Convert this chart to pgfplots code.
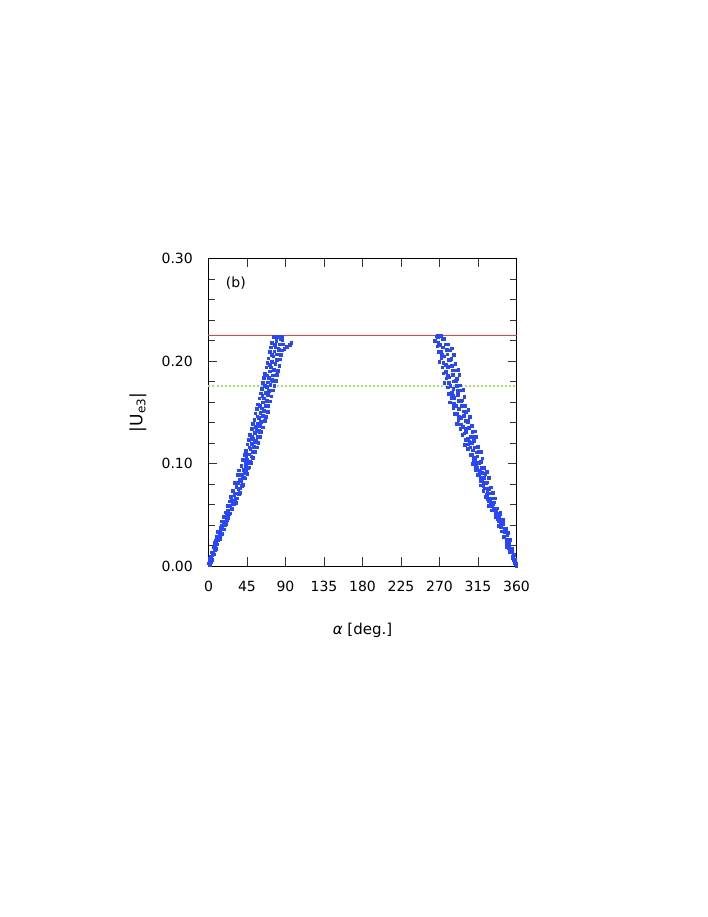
\documentclass[border=0pt]{standalone}
\usepackage{pgfplots}
\pgfplotsset{compat=1.18}
\usepackage{fontspec}
\setmainfont{DejaVu Sans}
\definecolor{ptblue}{RGB}{40,70,255}
\definecolor{ptred}{RGB}{240,60,60}
\definecolor{ptgreen}{RGB}{160,230,90}
\begin{document}
\begin{tikzpicture}
\path[use as bounding box, fill=white] (-208.5pt,-350.5pt) rectangle (499.5pt,566.5pt);
\begin{axis}[
  at={(0pt,0pt)}, anchor=south west,
  scale only axis, width=308pt, height=308pt,
  xmin=0, xmax=360, ymin=0, ymax=0.3,
  xtick={0,45,90,135,180,225,270,315,360},
  ytick={0,0.1,0.2,0.3},
  minor y tick num=4,
  tick align=inside,
  major tick length=9pt, minor tick length=6.5pt,
  axis line style={line width=1.3pt, black},
  every tick/.style={line width=1pt, black!80},
  /pgf/number format/assume math mode=true,
  yticklabel={\pgfmathprintnumber[fixed,fixed zerofill,precision=2]{\tick}},
  xticklabel style={font=\fontsize{14}{16}\selectfont, anchor=north, inner sep=0pt, yshift=-14.5pt},
  yticklabel style={font=\fontsize{14}{16}\selectfont, anchor=east, inner sep=0pt, xshift=-15.5pt},
  scaled y ticks=false,
  xlabel={{\itshape α} [deg.]},
  xlabel style={at={(axis description cs:0.5,-0.206)}, anchor=center, font=\fontsize{15}{18}\selectfont},
  ylabel={|U\textsubscript{e3}|},
  ylabel style={at={(axis description cs:-0.229,0.5)}, anchor=center, rotate=0, font=\fontsize{17}{20}\selectfont},
  clip=false,
]
\addplot[ptred, line width=1.1pt, mark=none, solid] table {
x y
0 0.225
360 0.225
};
\addplot[ptgreen, line width=1.4pt, mark=none, dash pattern=on 2pt off 2pt] table {
x y
0 0.176
360 0.176
};
% left branch
\addplot[only marks, mark=square*, mark size=1.35pt, mark options={draw=ptblue, fill=ptblue, line width=0pt}] coordinates {
(0.3,0.0029)(1.4,0.0014)(1.3,0.0063)(2.6,0.0039)(2.1,0.0078)(3.9,0.0061)(4.8,0.0107)(3.3,0.0098)
(4.0,0.0137)(6.3,0.0117)(7.5,0.0155)(5.2,0.0137)(6.1,0.0185)(8.6,0.0171)(9.9,0.0215)(7.4,0.0191)
(7.2,0.0227)(10.0,0.0213)(11.8,0.0258)(9.0,0.0245)(9.6,0.0289)(13.5,0.0265)(13.4,0.0304)(10.8,0.0293)
(11.5,0.0334)(15.8,0.0319)(16.3,0.0363)(13.2,0.0339)(13.9,0.0378)(18.5,0.0361)(19.1,0.0407)(15.6,0.0398)
(16.0,0.0437)(20.4,0.0417)(21.9,0.0455)(18.3,0.0437)(17.6,0.0485)(22.6,0.0471)(24.8,0.0515)(20.9,0.0491)
(19.8,0.0527)(24.5,0.0513)(27.9,0.0558)(23.1,0.0545)(22.4,0.0589)(27.6,0.0565)(30.1,0.0604)(25.4,0.0593)
(24.9,0.0634)(31.9,0.0619)(33.0,0.0663)(27.8,0.0639)(26.5,0.0678)(32.2,0.0661)(35.6,0.0707)(30.4,0.0698)
(29.0,0.0737)(36.9,0.0717)(34.9,0.0755)(28.6,0.0737)(38.8,0.0785)(32.7,0.0771)(31.1,0.0815)(40.4,0.0791)
(38.3,0.0827)(33.6,0.0813)(42.9,0.0858)(36.1,0.0845)(34.3,0.0889)(41.5,0.0865)(45.6,0.0904)(39.2,0.0893)
(36.0,0.0934)(43.9,0.0919)(47.8,0.0963)(41.0,0.0939)(38.5,0.0978)(46.4,0.0961)(50.2,0.1007)(43.6,0.0998)
(40.2,0.1037)(48.8,0.1017)(52.1,0.1055)(45.0,0.1037)(42.4,0.1085)(50.3,0.1071)(54.8,0.1115)(47.2,0.1091)
(44.0,0.1127)(52.6,0.1113)(56.9,0.1158)(49.1,0.1145)(45.7,0.1189)(53.0,0.1165)(58.4,0.1204)(50.5,0.1193)
(47.1,0.1234)(55.2,0.1219)(60.3,0.1263)(52.0,0.1239)(48.8,0.1278)(57.1,0.1261)(62.0,0.1307)(54.3,0.1298)
(50.5,0.1337)(58.9,0.1317)(63.8,0.1355)(56.0,0.1337)(51.7,0.1385)(60.4,0.1371)(65.9,0.1415)(57.5,0.1391)
(53.8,0.1427)(62.0,0.1413)(67.1,0.1458)(59.3,0.1445)(55.0,0.1489)(63.9,0.1465)(69.4,0.1504)(60.8,0.1493)
(56.9,0.1534)(65.0,0.1519)(70.1,0.1563)(62.3,0.1539)(58.2,0.1578)(66.9,0.1561)(72.0,0.1607)(63.6,0.1598)
(59.6,0.1637)(68.3,0.1617)(73.5,0.1655)(65.2,0.1637)(61.0,0.1685)(69.8,0.1671)(75.4,0.1715)(66.8,0.1691)
(62.3,0.1727)(71.0,0.1713)(77.0,0.1758)(68.0,0.1745)(63.9,0.1789)(72.6,0.1765)(78.8,0.1804)(69.7,0.1793)
(65.2,0.1834)(74.0,0.1819)(79.9,0.1863)(70.9,0.1839)(66.4,0.1878)(75.5,0.1861)(81.2,0.1907)(72.1,0.1898)
(67.8,0.1937)(76.8,0.1917)(82.9,0.1955)(73.3,0.1937)(69.0,0.1985)(78.2,0.1971)(84.1,0.2015)(74.6,0.1991)
(70.2,0.2027)(79.5,0.2013)(84.9,0.2058)(75.8,0.2045)(71.6,0.2089)(80.3,0.2065)(85.7,0.2104)(77.1,0.2093)
(73.0,0.2134)(81.9,0.2119)(87.0,0.2163)(78.2,0.2139)(74.5,0.2178)(83.3,0.2161)(86.6,0.2207)(79.6,0.2198)
(76.0,0.2237)(84.4,0.2217)(78.5,0.224)(82.0,0.224)(86.0,0.224)
(95,0.216)(89,0.212)(97,0.218)(92,0.214)
(54.5,0.121)(50.8,0.126)(59.9,0.131)(55.2,0.136)(61.5,0.141)(57.1,0.146)(64.8,0.151)(60.2,0.156)
(67.9,0.161)(63.0,0.166)(70.5,0.171)(66.1,0.176)(74.8,0.181)(68.9,0.186)(77.0,0.191)(72.2,0.196)
(80.5,0.201)(74.3,0.206)(82.6,0.211)(77.5,0.216)(84.2,0.221)(80.0,0.223)
(18.0,0.041)(21.0,0.046)(22.5,0.051)(26.9,0.056)(28.0,0.061)(31.5,0.066)(32.0,0.071)(37.3,0.076)
(35.0,0.081)(40.6,0.086)(42.5,0.091)(44.0,0.096)(46.9,0.101)(44.5,0.106)(51.3,0.111)(48.0,0.116)
};
% right branch
\addplot[only marks, mark=square*, mark size=1.35pt, mark options={draw=ptblue, fill=ptblue, line width=0pt}] coordinates {
(358.5,0.0032)(359.4,0.0023)(358.9,0.0062)(357.7,0.0042)(355.9,0.0080)(357.3,0.0062)(356.9,0.0110)(355.3,0.0096)
(354.5,0.0140)(356.6,0.0116)(354.4,0.0152)(352.2,0.0138)(351.3,0.0183)(354.4,0.0170)(351.8,0.0214)(349.0,0.0190)
(348.6,0.0229)(351.9,0.0218)(352.1,0.0259)(348.6,0.0244)(345.7,0.0288)(349.1,0.0264)(349.5,0.0303)(345.9,0.0286)
(345.8,0.0332)(350.0,0.0323)(346.6,0.0362)(342.6,0.0342)(342.2,0.0380)(347.5,0.0362)(343.9,0.0410)(339.5,0.0396)
(339.2,0.0440)(344.2,0.0416)(344.6,0.0452)(339.5,0.0438)(335.4,0.0483)(340.3,0.0470)(340.7,0.0514)(335.8,0.0490)
(335.8,0.0529)(341.3,0.0518)(336.7,0.0559)(331.5,0.0544)(331.1,0.0588)(337.9,0.0564)(333.1,0.0603)(327.6,0.0586)
(327.9,0.0632)(334.1,0.0623)(335.2,0.0662)(328.9,0.0642)(324.5,0.0680)(330.5,0.0662)(331.6,0.0710)(325.5,0.0696)
(326.1,0.0740)(332.8,0.0716)(327.9,0.0752)(321.6,0.0738)(321.5,0.0783)(329.8,0.0770)(324.6,0.0814)(318.0,0.0790)
(318.7,0.0829)(326.0,0.0818)(327.6,0.0859)(320.1,0.0844)(315.2,0.0888)(322.3,0.0864)(323.9,0.0903)(316.8,0.0886)
(317.7,0.0932)(325.6,0.0923)(320.0,0.0962)(312.6,0.0942)(312.9,0.0980)(322.5,0.0962)(316.7,0.1010)(309.0,0.0996)
(309.9,0.1040)(318.5,0.1016)(320.4,0.1052)(311.7,0.1038)(306.1,0.1083)(314.3,0.1070)(316.2,0.1114)(308.0,0.1090)
(309.2,0.1129)(318.3,0.1118)(311.9,0.1159)(303.4,0.1144)(303.8,0.1188)(314.8,0.1164)(308.3,0.1203)(299.5,0.1186)
(300.8,0.1232)(310.6,0.1223)(312.9,0.1262)(303.0,0.1242)(297.0,0.1280)(306.2,0.1262)(308.6,0.1310)(299.3,0.1296)
(300.8,0.1340)(311.1,0.1316)(304.1,0.1352)(294.5,0.1338)(295.2,0.1383)(307.6,0.1370)(300.4,0.1414)(290.5,0.1390)
(292.2,0.1429)(303.0,0.1418)(305.7,0.1459)(294.9,0.1444)(288.5,0.1488)(298.4,0.1464)(301.1,0.1503)(291.2,0.1486)
(293.0,0.1532)(303.9,0.1523)(296.6,0.1562)(286.5,0.1542)(287.3,0.1580)(300.4,0.1562)(293.0,0.1610)(282.5,0.1596)
(284.6,0.1640)(296.0,0.1616)(299.1,0.1652)(287.7,0.1638)(281.2,0.1683)(291.6,0.1670)(294.7,0.1714)(284.3,0.1690)
(286.3,0.1729)(297.9,0.1718)(290.4,0.1759)(279.7,0.1744)(280.8,0.1788)(294.7,0.1764)(287.0,0.1803)(276.0,0.1786)
(278.3,0.1832)(290.3,0.1823)(293.5,0.1862)(281.5,0.1842)(274.8,0.1880)(285.8,0.1862)(289.0,0.1910)(278.0,0.1896)
(280.3,0.1940)(292.3,0.1916)(284.5,0.1952)(273.5,0.1938)(274.8,0.1983)(288.8,0.1970)(281.0,0.2014)(270.0,0.1990)
(272.2,0.2029)(284.1,0.2018)(287.0,0.2059)(275.3,0.2044)(268.8,0.2088)(279.3,0.2064)(282.2,0.2103)(271.8,0.2086)
(273.8,0.2132)(284.7,0.2123)(277.4,0.2162)(267.8,0.2142)(268.9,0.2180)(280.6,0.2162)(273.8,0.2210)(265.0,0.2196)
(266.6,0.2240)(275.0,0.2216)(267.5,0.2245)(270.5,0.2245)(272.5,0.2245)
(305.0,0.121)(309.5,0.126)(301.0,0.131)(297.5,0.136)(303.3,0.141)(293.0,0.146)(298.2,0.151)(289.5,0.156)
(295.4,0.161)(285.9,0.166)(291.8,0.171)(283.0,0.176)(289.6,0.181)(279.8,0.186)(285.5,0.191)(277.2,0.196)
(283.0,0.201)(272.9,0.206)(278.6,0.211)(270.4,0.216)(276.0,0.221)(268.5,0.223)
(341.5,0.041)(337.9,0.046)(336.9,0.051)(333.0,0.056)(330.1,0.061)(326.9,0.066)(327.0,0.071)(323.3,0.076)
(321.8,0.081)(318.4,0.086)(319.7,0.091)(314.5,0.096)(313.0,0.101)(310.6,0.106)(313.4,0.111)(306.4,0.116)
(360,0.0)
};
\node[font=\fontsize{14}{16}\selectfont] at (axis cs:32,0.276) {(b)};
\end{axis}
\end{tikzpicture}
\end{document}
